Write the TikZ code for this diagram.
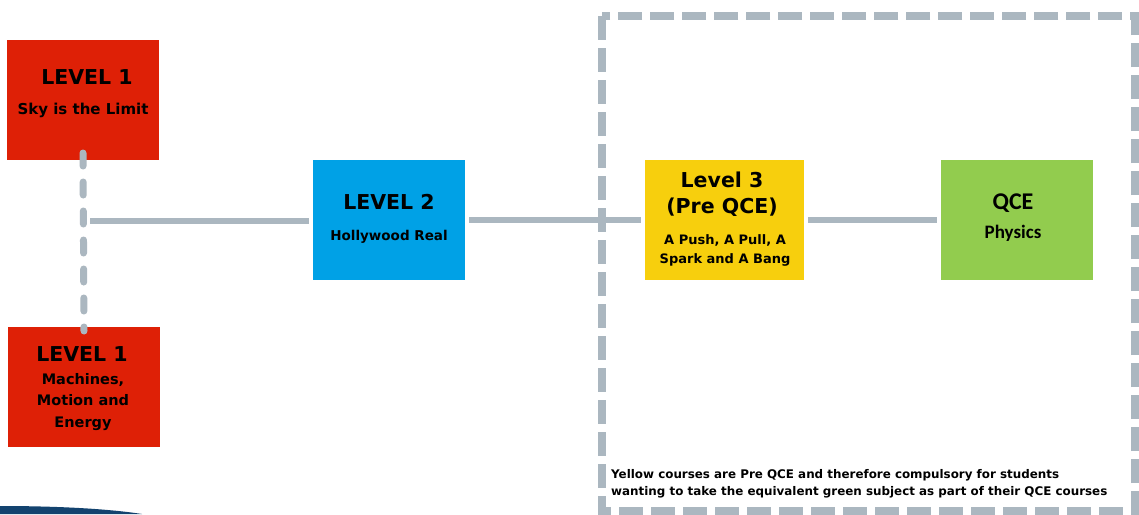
\documentclass[tikz,border=0pt]{standalone}
\usepackage{fontspec}
\setmainfont{DejaVu Sans}
\newfontfamily\carl{Carlito}
\definecolor{boxred}{HTML}{DE2006}
\definecolor{boxblue}{HTML}{00A1E6}
\definecolor{boxyellow}{HTML}{F7CF0D}
\definecolor{boxgreen}{HTML}{92CC4E}
\definecolor{linegrey}{HTML}{ABB7C0}
\definecolor{navy}{HTML}{13436F}
\tikzset{
  card/.style={draw=none, minimum width=152pt, minimum height=120pt, inner sep=0pt, outer sep=0pt},
  txt/.style={inner sep=0pt, align=center, text=black, font=\bfseries},
  conn/.style={draw=linegrey, line width=6pt, shorten <=4pt, shorten >=4pt},
  dconn/.style={draw=linegrey, line width=7pt, line cap=round, dash pattern=on 13pt off 16pt},
  region/.style={draw=linegrey, line width=8pt, dash pattern=on 24pt off 8pt},
}
\begin{document}
\begin{tikzpicture}[x=1pt,y=-1pt]
\useasboundingbox (0,0) rectangle (1139,514);
\fill[white] (0,0) rectangle (1139,514);
% bottom-left band
\fill[navy] (0,506) .. controls (60,506) and (110,509) .. (142,514) -- (0,514) -- cycle;
% dashed region
\draw[region] (602,16) rectangle (1135,511);
% boxes
\node[card, fill=boxred] (r1) at (83,100) {};
\node[card, fill=boxred] (r2) at (84,387) {};
\node[card, fill=boxblue] (b2) at (389,220) {};
\node[card, fill=boxyellow, minimum width=159pt] (y3) at (724.5,220) {};
\node[card, fill=boxgreen] (g) at (1017,220) {};
% texts
\node[txt, font=\bfseries\fontsize{20.5}{24}\selectfont] (r1t) at (87,77) {LEVEL 1};
\node[txt, font=\bfseries\fontsize{15}{18}\selectfont] (r1s) at (83,110) {Sky is the Limit};
\node[txt, font=\bfseries\fontsize{20.5}{24}\selectfont] (r2t) at (82,354) {LEVEL 1};
\node[txt, font=\bfseries\fontsize{14.5}{21.5}\selectfont] (r2s) at (83,402) {Machines,\\Motion and\\Energy};
\node[txt, font=\bfseries\fontsize{20.5}{24}\selectfont] (b2t) at (389,202) {LEVEL 2};
\node[txt, font=\bfseries\fontsize{13.5}{16}\selectfont] (b2s) at (389,237) {Hollywood Real};
\node[txt, font=\bfseries\fontsize{20.5}{26}\selectfont] (y3t) at (722,194) {Level 3\\(Pre QCE)};
\node[txt, font=\bfseries\fontsize{13}{19}\selectfont] (y3s) at (725,250) {A Push, A Pull, A\\Spark and A Bang};
\node[txt, font=\carl\bfseries\fontsize{24}{28}\selectfont] (gt) at (1013,203) {QCE};
\node[txt, font=\carl\bfseries\fontsize{19}{22}\selectfont] (gs) at (1013,233) {Physics};
\node[txt, anchor=west, align=left, font=\bfseries\fontsize{11.9}{17}\selectfont] (note) at (611,484) {Yellow courses are Pre QCE and therefore compulsory for students\\wanting to take the equivalent green subject as part of their QCE courses};
% connectors
\coordinate (j) at (90,221);
\draw[dconn] ([yshift=7pt]r1.south) -- ([yshift=-4pt]r2.north);
\draw[conn, shorten <=0pt] (j) -- (b2.west |- j);
\draw[conn] (b2.east |- 0,220) -- (y3.west |- 0,220);
\draw[conn] (y3.east |- 0,220) -- (g.west |- 0,220);
\end{tikzpicture}
\end{document}
